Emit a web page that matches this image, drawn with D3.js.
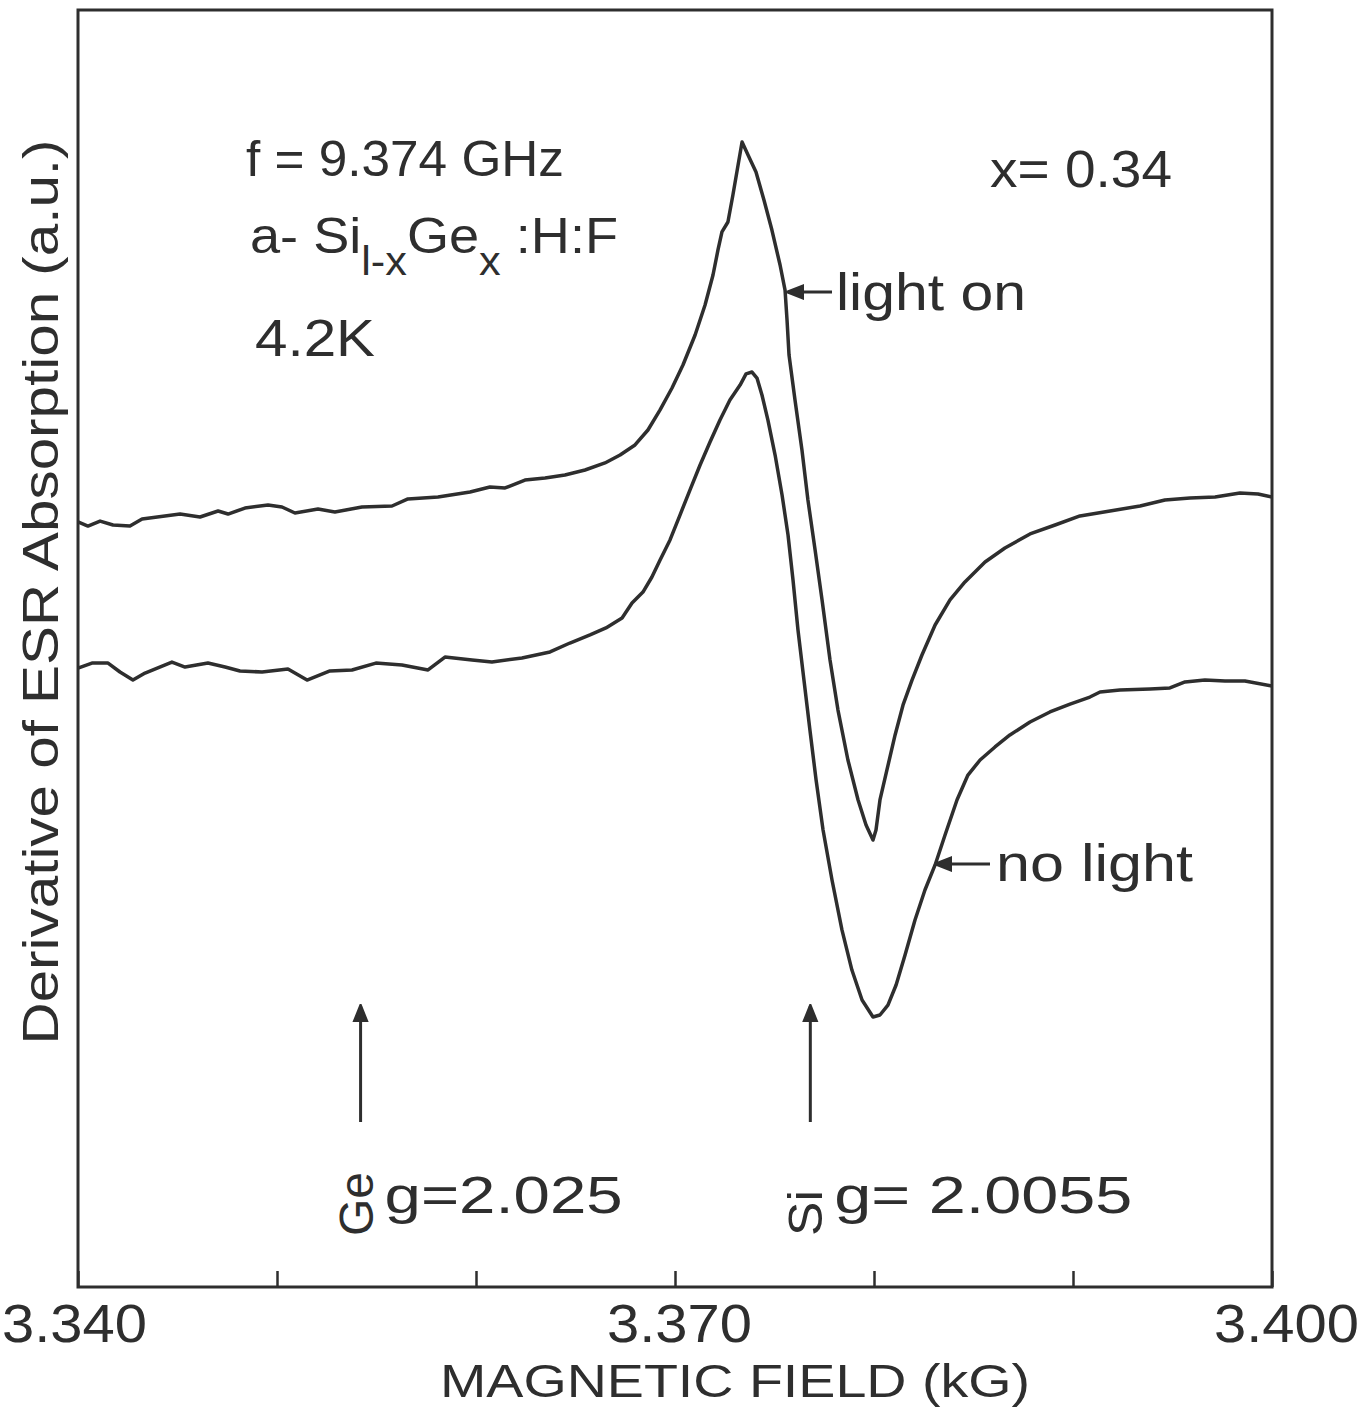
<!DOCTYPE html>
<html>
<head>
<meta charset="utf-8">
<script src="https://cdn.jsdelivr.net/npm/d3@7"></script>
<style>
  body { margin: 0; background: #fff; }
  text { font-family: "Liberation Sans", Arial, sans-serif; fill: #2e2e2e; }
</style>
</head>
<body>
<script>
// ESR derivative spectra, a-Si(1-x)Ge(x):H:F, x = 0.34, 4.2 K
// field in kG, signal in arbitrary units

var lightOnField = [3.34000, 3.34050, 3.34111, 3.34176, 3.34261, 3.34322, 3.34513, 3.34613, 3.34704, 3.34754,
  3.34839, 3.34955, 3.35025, 3.35090, 3.35206, 3.35291, 3.35427, 3.35578, 3.35658, 3.35809,
  3.35970, 3.36070, 3.36146, 3.36246, 3.36347, 3.36447, 3.36548, 3.36648, 3.36724, 3.36799,
  3.36864, 3.36925, 3.36985, 3.37040, 3.37101, 3.37151, 3.37191, 3.37216, 3.37236, 3.37266,
  3.37291, 3.37317, 3.37337, 3.37367, 3.37407, 3.37447, 3.37487, 3.37528, 3.37553, 3.37563,
  3.37573, 3.37603, 3.37638, 3.37668, 3.37704, 3.37739, 3.37779, 3.37819, 3.37869, 3.37920,
  3.37960, 3.37995, 3.38010, 3.38030, 3.38065, 3.38106, 3.38146, 3.38191, 3.38241, 3.38307,
  3.38382, 3.38457, 3.38558, 3.38658, 3.38784, 3.38910, 3.39035, 3.39186, 3.39337, 3.39462,
  3.39588, 3.39714, 3.39839, 3.39930, 3.40000];
var lightOnSignal = [59.91, 59.59, 59.98, 59.67, 59.59, 60.14, 60.53, 60.30, 60.77, 60.53,
  61.00, 61.24, 61.08, 60.61, 60.92, 60.69, 61.08, 61.16, 61.71, 61.86,
  62.26, 62.65, 62.57, 63.19, 63.35, 63.59, 63.98, 64.53, 65.15, 65.94,
  67.11, 68.68, 70.40, 72.20, 74.55, 76.90, 79.25, 81.21, 82.62, 83.40,
  85.51, 87.86, 89.66, 88.65, 87.31, 85.12, 82.77, 80.03, 78.07, 75.72,
  72.98, 69.46, 65.54, 61.63, 57.71, 53.80, 49.10, 45.18, 41.27, 38.14,
  36.18, 35.00, 35.79, 38.14, 40.49, 43.23, 45.58, 47.53, 49.49, 51.84,
  53.80, 55.21, 56.77, 57.87, 58.97, 59.67, 60.38, 60.77, 61.16, 61.63,
  61.79, 61.86, 62.18, 62.10, 61.86];

var noLightField = [3.34000, 3.34070, 3.34151, 3.34211, 3.34276, 3.34337, 3.34472, 3.34538, 3.34653, 3.34739,
  3.34814, 3.34925, 3.35055, 3.35151, 3.35266, 3.35377, 3.35497, 3.35628, 3.35759, 3.35844,
  3.35980, 3.36080, 3.36231, 3.36372, 3.36472, 3.36573, 3.36653, 3.36734, 3.36784, 3.36839,
  3.36884, 3.36925, 3.36975, 3.37025, 3.37075, 3.37126, 3.37176, 3.37226, 3.37276, 3.37327,
  3.37357, 3.37387, 3.37412, 3.37437, 3.37467, 3.37503, 3.37538, 3.37568, 3.37593, 3.37618,
  3.37648, 3.37678, 3.37709, 3.37744, 3.37789, 3.37839, 3.37889, 3.37940, 3.37995, 3.38030,
  3.38070, 3.38111, 3.38156, 3.38206, 3.38256, 3.38307, 3.38357, 3.38417, 3.38472, 3.38533,
  3.38608, 3.38683, 3.38784, 3.38884, 3.38985, 3.39085, 3.39136, 3.39236, 3.39387, 3.39487,
  3.39563, 3.39663, 3.39764, 3.39864, 3.40000];
var noLightSignal = [48.47, 48.86, 48.86, 48.16, 47.53, 48.08, 48.94, 48.55, 48.86, 48.55,
  48.24, 48.16, 48.39, 47.53, 48.24, 48.32, 48.86, 48.71, 48.32, 49.33,
  49.10, 48.94, 49.26, 49.73, 50.43, 51.06, 51.61, 52.39, 53.56, 54.42,
  55.60, 56.93, 58.50, 60.45, 62.41, 64.37, 66.17, 67.89, 69.46, 70.63,
  71.50, 71.65, 71.18, 69.85, 67.89, 65.15, 62.02, 58.89, 55.36, 51.45,
  47.53, 43.62, 39.70, 35.79, 31.87, 27.96, 24.82, 22.47, 21.14, 21.30,
  22.08, 23.65, 26.00, 28.74, 31.09, 33.05, 35.40, 38.14, 40.09, 41.27,
  42.29, 43.23, 44.24, 45.03, 45.65, 46.20, 46.59, 46.75, 46.83, 46.91,
  47.38, 47.53, 47.45, 47.45, 47.06];

var tickFields = [3.34, 3.35, 3.36, 3.37, 3.38, 3.39, 3.40];
var labelledTicks = [3.34, 3.37, 3.40];

// g-value markers (field where the arrows sit)
var markerField = [3.3542, 3.3768];
var markerName = ["Ge", "Si"];
var markerG = ["g=2.025", "g= 2.0055"];

var width = 1363, height = 1407;
var mLeft = 78, mRight = 1272, mTop = 10, mBottom = 1287;

var svg = d3.select("body").append("svg")
    .attr("width", width)
    .attr("height", height);

var x = d3.scaleLinear().domain([3.34, 3.40]).range([mLeft, mRight]);
var y = d3.scaleLinear().domain([0, 100]).range([mBottom, mTop]);

var ink = "#2e2e2e";

// frame
svg.append("rect")
    .attr("x", mLeft).attr("y", mTop)
    .attr("width", mRight - mLeft).attr("height", mBottom - mTop)
    .attr("fill", "none")
    .attr("stroke", ink)
    .attr("stroke-width", 3);

// x axis, ticks pointing inward
var xAxis = d3.axisBottom(x)
    .tickValues(tickFields)
    .tickSize(-16)
    .tickPadding(20)
    .tickFormat(function(d) {
      return labelledTicks.some(function(t) { return Math.abs(t - d) < 1e-9; }) ? d3.format(".3f")(d) : "";
    });

var gx = svg.append("g")
    .attr("transform", "translate(0," + mBottom + ")")
    .call(xAxis);
gx.select(".domain").remove();
gx.selectAll(".tick line").attr("stroke", ink).attr("stroke-width", 2.5);
gx.selectAll(".tick text")
    .attr("y", 55)
    .attr("dy", 0)
    .style("font-size", "54px")
    .attr("fill", ink)
    .attr("textLength", function(d) { return labelledTicks.indexOf(d) >= 0 ? 145 : null; })
    .attr("lengthAdjust", "spacingAndGlyphs")
    .attr("dx", function(d) { return d === 3.40 ? 14 : (d === 3.34 ? -4 : 4); });

// axis titles
svg.append("text")
    .attr("x", 735).attr("y", 1397)
    .attr("text-anchor", "middle")
    .attr("textLength", 590).attr("lengthAdjust", "spacingAndGlyphs")
    .style("font-size", "46px")
    .text("MAGNETIC  FIELD (kG)");

svg.append("text")
    .attr("transform", "translate(58,592) rotate(-90)")
    .attr("text-anchor", "middle")
    .attr("textLength", 905).attr("lengthAdjust", "spacingAndGlyphs")
    .style("font-size", "50px")
    .text("Derivative  of  ESR  Absorption (a.u.)");

// spectra
var line = d3.line()
    .x(function(d) { return x(d[0]); })
    .y(function(d) { return y(d[1]); });

var series = [
  d3.zip(lightOnField, lightOnSignal),
  d3.zip(noLightField, noLightSignal)
];

svg.selectAll(".trace")
    .data(series)
  .enter().append("path")
    .attr("class", "trace")
    .attr("d", line)
    .attr("fill", "none")
    .attr("stroke", ink)
    .attr("stroke-width", 3.5)
    .attr("stroke-linejoin", "round");

// arrowhead marker
var defs = svg.append("defs");
defs.append("marker")
    .attr("id", "head")
    .attr("viewBox", "0 0 10 10")
    .attr("refX", 9).attr("refY", 5)
    .attr("markerUnits", "userSpaceOnUse")
    .attr("markerWidth", 18).attr("markerHeight", 18)
    .attr("orient", "auto-start-reverse")
  .append("path")
    .attr("d", "M0,1 L10,5 L0,9 Z")
    .attr("fill", ink)
    .attr("stroke", ink)
    .attr("stroke-width", 1);

// curve labels
function pointer(x1, y1, x2, text, tx, ty, len) {
  svg.append("line")
      .attr("x1", x2).attr("y1", y1).attr("x2", x1).attr("y2", y1)
      .attr("stroke", ink).attr("stroke-width", 3)
      .attr("marker-end", "url(#head)");
  svg.append("text")
      .attr("x", tx).attr("y", ty)
      .attr("textLength", len).attr("lengthAdjust", "spacingAndGlyphs")
      .style("font-size", "52px")
      .text(text);
}
pointer(788, 292, 832, "light  on", 836, 310, 190);
pointer(936, 864, 990, "no  light", 996, 881, 197);

// g-value arrows
markerField.forEach(function(f, i) {
  var px = x(f);
  svg.append("line")
      .attr("x1", px).attr("y1", 1122).attr("x2", px).attr("y2", 1006)
      .attr("stroke", ink).attr("stroke-width", 3)
      .attr("marker-end", "url(#head)");
  svg.append("text")
      .attr("transform", "translate(" + (px + 12) + ",1236) rotate(-90)")
      .attr("textLength", i === 0 ? 64 : 46).attr("lengthAdjust", "spacingAndGlyphs")
      .style("font-size", "48px")
      .text(markerName[i]);
  svg.append("text")
      .attr("x", px + 24).attr("y", 1213)
      .attr("textLength", i === 0 ? 238 : 298).attr("lengthAdjust", "spacingAndGlyphs")
      .style("font-size", "52px")
      .text(markerG[i]);
});

// sample info
svg.append("text")
    .attr("x", 246).attr("y", 176)
    .attr("textLength", 318).attr("lengthAdjust", "spacingAndGlyphs")
    .style("font-size", "50px")
    .text("f = 9.374 GHz");

var comp = svg.append("text")
    .attr("x", 250).attr("y", 253)
    .style("font-size", "50px");
comp.append("tspan").text("a- Si");
comp.append("tspan").attr("dy", 22).style("font-size", "40px").text("l-x");
comp.append("tspan").attr("dy", -22).text("Ge");
comp.append("tspan").attr("dy", 22).style("font-size", "40px").text("x");
comp.append("tspan").attr("dy", -22).text(" :H:F");
comp.attr("textLength", 368).attr("lengthAdjust", "spacingAndGlyphs");

svg.append("text")
    .attr("x", 255).attr("y", 356)
    .attr("textLength", 120).attr("lengthAdjust", "spacingAndGlyphs")
    .style("font-size", "52px")
    .text("4.2K");

svg.append("text")
    .attr("x", 990).attr("y", 187)
    .attr("textLength", 182).attr("lengthAdjust", "spacingAndGlyphs")
    .style("font-size", "52px")
    .text("x= 0.34");
</script>
</body>
</html>
